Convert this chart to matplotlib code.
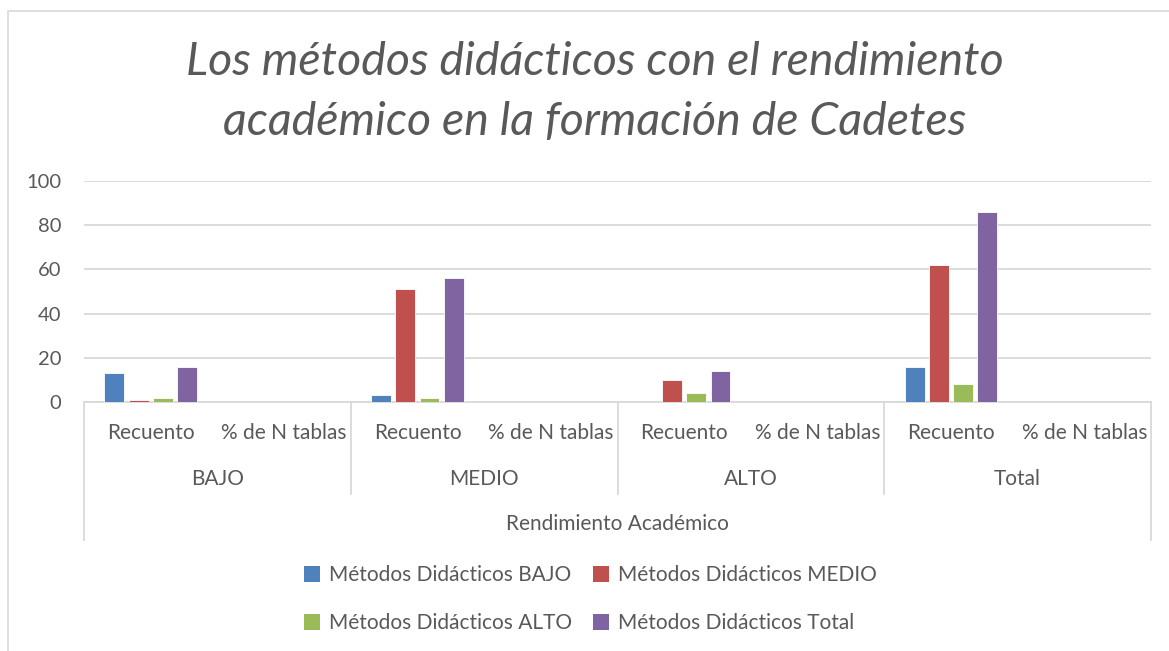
import numpy as np
import matplotlib
matplotlib.use('Agg')
import matplotlib.pyplot as plt
import matplotlib.transforms as mtransforms
from matplotlib.patches import Rectangle, Patch
from matplotlib.lines import Line2D

plt.rcParams['font.family'] = ['Lato', 'DejaVu Sans']

#data
groups = ['BAJO', 'MEDIO', 'ALTO', 'Total']
subcats = ['Recuento', '% de N tablas']
series_names = ['Métodos Didácticos BAJO', 'Métodos Didácticos MEDIO',
                'Métodos Didácticos ALTO', 'Métodos Didácticos Total']
# one value per slot: (BAJO Rec, BAJO %, MEDIO Rec, MEDIO %, ALTO Rec, ALTO %, Total Rec, Total %)
bajo = [13, 0, 3, 0, 0, 0, 16, 0]
medio = [1, 0, 51, 0, 10, 0, 62, 0]
alto = [2, 0, 2, 0, 4, 0, 8, 0]
total = [16, 0, 56, 0, 14, 0, 86, 0]
colors = ['#4F81BD', '#C0504D', '#9BBB59', '#8064A2']

W, H = 1169, 651
fig = plt.figure(figsize=(W/100, H/100), dpi=100)
txt = '#595959'
grid = '#D9D9D9'
fs = 15

#outer chart border
fig.patches.append(Rectangle((8/W, -0.1), 1.2, 1 - 11/H + 0.1, transform=fig.transFigure,
                             fill=False, edgecolor=grid, linewidth=1.2))

x0, x1, ytop, ybot = 84, 1151, 181, 402
ax = fig.add_axes([x0/W, 1 - ybot/H, (x1 - x0)/W, (ybot - ytop)/H])

n_slots = len(groups) * len(subcats)
x = np.arange(n_slots)
step = 0.1815
for k, (vals, c) in enumerate(zip([bajo, medio, alto, total], colors)):
    ax.bar(x + (k - 1.5) * step, vals, width=step * 0.82, color=c,
           edgecolor='white', linewidth=0.6, label=series_names[k], zorder=3)

ax.set_xlim(-0.5, n_slots - 0.5)
ax.set_ylim(0, 100)
ax.set_yticks(range(0, 101, 20))
ax.yaxis.grid(True, color=grid, linewidth=1.3, zorder=0)
ax.tick_params(axis='y', length=0, pad=16.5, labelsize=14.5, labelcolor=txt)
ax.set_xticks([])
for s in ['left', 'right', 'top']:
    ax.spines[s].set_visible(False)
ax.spines['bottom'].set_color(grid)
ax.spines['bottom'].set_linewidth(1.3)

#multi level category axis
tr = mtransforms.blended_transform_factory(ax.transData, fig.transFigure)
fy = lambda py: 1 - py/H
for i, lab in enumerate(subcats * len(groups)):
    ax.text(i, fy(433), lab, transform=tr, ha='center', va='center', fontsize=fs, color=txt)
for g, lab in enumerate(groups):
    ax.text(2*g + 0.5, fy(479), lab, transform=tr, ha='center', va='center', fontsize=fs, color=txt)
for b in range(1, len(groups)):
    ax.add_line(Line2D([2*b - 0.5, 2*b - 0.5], [fy(ybot), fy(494)], transform=tr,
                       color=grid, linewidth=1.3, clip_on=False))
for b in [-0.5, n_slots - 0.5]:
    ax.add_line(Line2D([b, b], [fy(ybot), fy(540)], transform=tr,
                       color=grid, linewidth=1.3, clip_on=False))
ax.text((n_slots - 1) / 2, fy(524), 'Rendimiento Académico', transform=tr,
        ha='center', va='center', fontsize=fs, color=txt)

#title
fig.text(595/W, fy(62), 'Los métodos didácticos con el rendimiento', ha='center', va='center',
         fontsize=33.5, style='italic', color=txt)
fig.text(595/W, fy(122), 'académico en la formación de Cadetes', ha='center', va='center',
         fontsize=33.5, style='italic', color=txt)

#legend, two rows
handles = [Patch(facecolor=c) for c in colors]
order = [0, 2, 1, 3]
fig.legend([handles[i] for i in order], [series_names[i] for i in order], ncol=2,
           loc='center', bbox_to_anchor=(590/W, fy(599)), frameon=False,
           fontsize=fs, labelcolor=txt, handlelength=0.8, handleheight=0.8,
           handletextpad=0.4, columnspacing=1.0, labelspacing=1.35)

fig.savefig('out.png', dpi=100)
